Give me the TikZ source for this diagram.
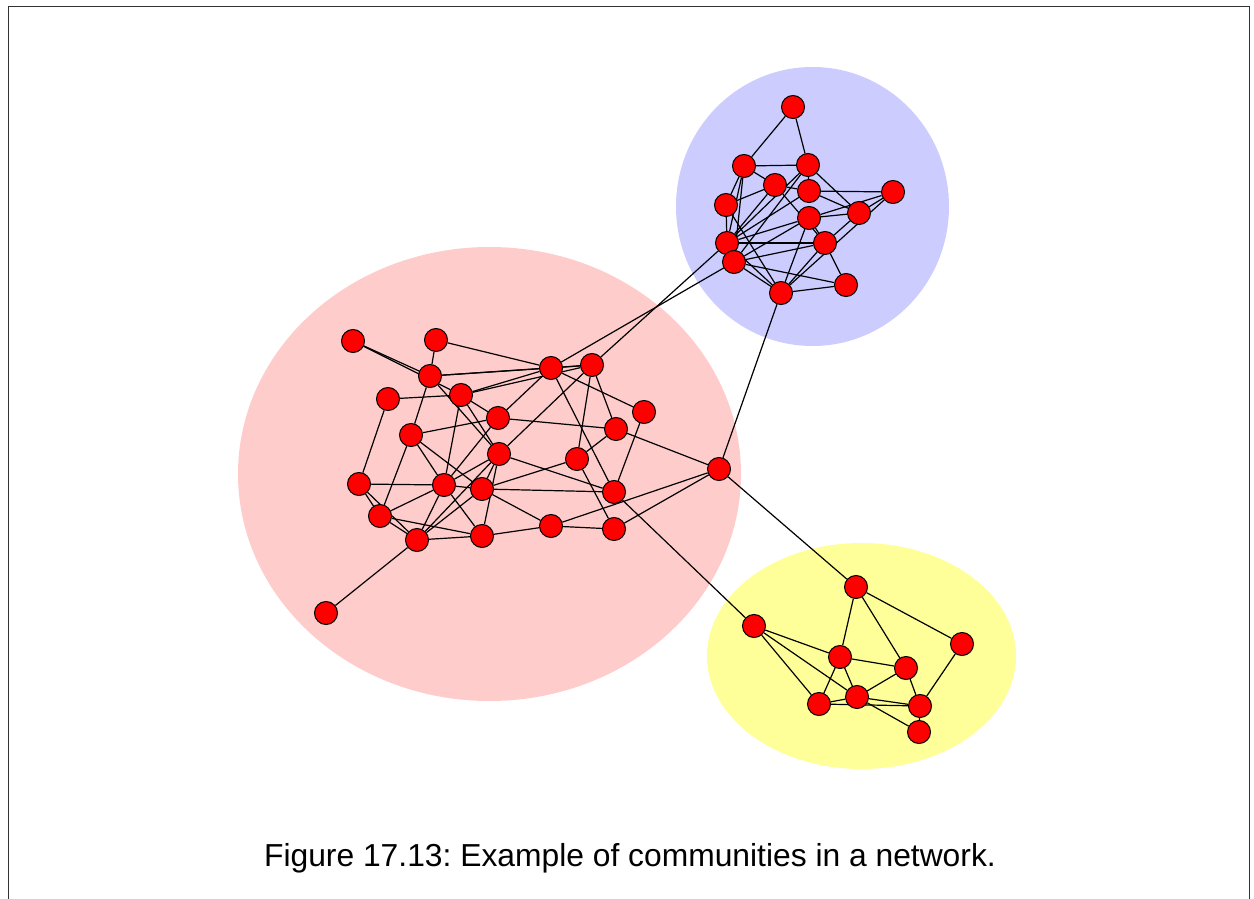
\documentclass[tikz,border=0pt]{standalone}
\usepackage{fontspec}
\setmainfont{Liberation Sans}
\usepackage{tikz}
\definecolor{rosa}{HTML}{FFCCCC}
\definecolor{lilla}{HTML}{CCCCFF}
\definecolor{giallo}{HTML}{FFFF99}
\pgfdeclarelayer{sfondo}
\pgfdeclarelayer{archi}
\pgfsetlayers{sfondo,archi,main}
\frenchspacing

\begin{document}
\begin{tikzpicture}[x=0.5pt, y=-0.5pt,
        nodo/.style={circle, draw=black, fill=red, line width=0.5pt,
            inner sep=0pt, minimum size=11.5pt},
        arco/.style={line width=0.6pt}]
    \useasboundingbox (0,0) rectangle (1254,899);
    \draw[line width=0.5pt, black!80] (8,899) -- (8,7) -- (1249,7) -- (1249,899);

    % Comunita'
    \begin{pgfonlayer}{sfondo}
        \fill[rosa] (489.5,474) ellipse [x radius=251.5, y radius=227];
        \fill[lilla] (812.5,206.5) ellipse [x radius=136.5, y radius=139.5];
        \fill[giallo] (861.5,656) ellipse [x radius=154.5, y radius=113];
    \end{pgfonlayer}

    % Nodi
    \foreach \n/\x/\y in {
            b1/793/107, b2/744/166, b3/808/165, b4/775/185, b5/809/191,
            b6/893/192, b7/726/205, b8/809/218, b9/859/213, b10/727/243,
            b11/825/243, b12/734/262, b13/781/293, b14/846/285}
        \node[nodo] (\n) at (\x,\y) {};
    \foreach \n/\x/\y in {
            r1/353/341, r2/436/340, r3/430/376, r4/551/368, r5/592/365,
            r6/388/399, r7/461/395, r8/498/418, r9/644/412, r10/616/429,
            r11/411/435, r12/499/454, r13/577/459, r14/719/469, r15/359/484,
            r16/444/485, r17/482/489, r18/614/492, r19/380/516, r20/551/526,
            r21/482/536, r22/614/529, r23/417/540, r24/326/613}
        \node[nodo] (\n) at (\x,\y) {};
    \foreach \n/\x/\y in {
            y1/856/587, y2/754/626, y3/962/644, y4/840/657, y5/906/668,
            y6/819/704, y7/857/697, y8/920/706, y9/919/732}
        \node[nodo] (\n) at (\x,\y) {};

    % Archi
    \begin{pgfonlayer}{archi}
        \foreach \a/\b in {
                b1/b2, b1/b3, b2/b3, b2/b4, b2/b7, b2/b10, b2/b12, b3/b5,
                b3/b9, b3/b10, b3/b12, b4/b7, b4/b5, b4/b11, b4/b10, b5/b6,
                b5/b9, b5/b10, b8/b6, b8/b9, b8/b10, b8/b12, b8/b13, b8/b11,
                b9/b6, b11/b9, b13/b11, b13/b6, b7/b13, b7/b10, b10/b11,
                b12/b11, b12/b14, b12/b13, b10/b13, b13/b14, b11/b14}
            \draw[arco] (\a) -- (\b);
        \foreach \a/\b in {
                r1/r3, r1/r7, r2/r3, r2/r4, r3/r4, r3/r5, r7/r4, r7/r5,
                r6/r7, r6/r15, r3/r11, r3/r12, r7/r8, r7/r12, r7/r16,
                r11/r8, r11/r16, r11/r17, r11/r19, r4/r8, r8/r16, r4/r5,
                r4/r9, r4/r18, r8/r10, r12/r5, r12/r16, r12/r17, r12/r18,
                r12/r21, r12/r23, r15/r16, r15/r19, r15/r23, r16/r17,
                r16/r19, r16/r23, r16/r21, r17/r18, r17/r13, r17/r20,
                r17/r23, r19/r21, r19/r23, r23/r21, r21/r20, r20/r22,
                r20/r14, r22/r14, r10/r14, r5/r10, r5/r13, r10/r13, r9/r18,
                r13/r22, r24/r23}
            \draw[arco] (\a) -- (\b);
        \foreach \a/\b in {
                y1/y4, y1/y5, y1/y3, y2/y4, y2/y6, y2/y7, y4/y5, y4/y6,
                y4/y7, y5/y7, y5/y8, y3/y8, y6/y7, y6/y8, y7/y8, y7/y9, y8/y9}
            \draw[arco] (\a) -- (\b);
        % Ponti tra comunita'
        \foreach \a/\b in {r4/b12, r5/b10, r14/b13, r14/y1, r18/y2}
            \draw[arco] (\a) -- (\b);
    \end{pgfonlayer}

    \node[font=\fontsize{15.9}{19}\selectfont, anchor=base] (didascalia) at (630,866)
        {Figure 17.13: Example of communities in a network.};
\end{tikzpicture}
\end{document}
